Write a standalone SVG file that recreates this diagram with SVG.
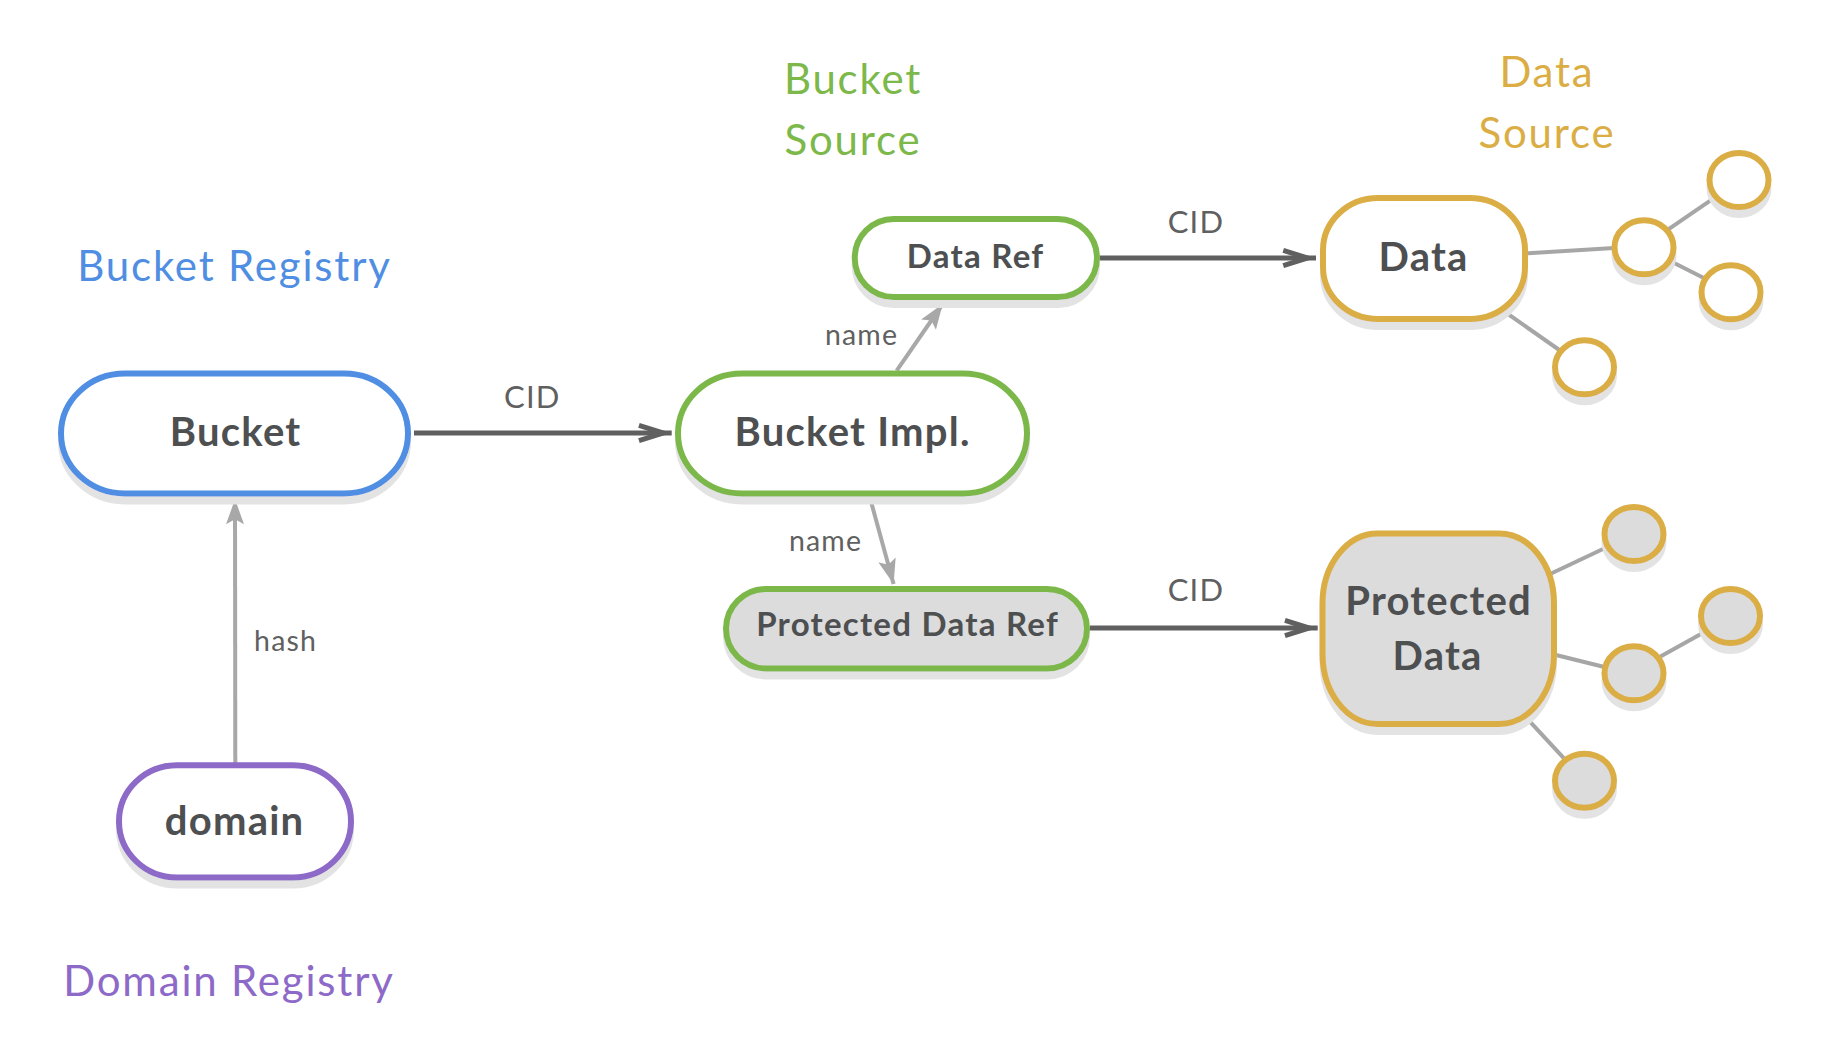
<svg xmlns="http://www.w3.org/2000/svg" width="1822" height="1054" viewBox="0 0 1822 1054">
<style>
  .title { font-family: Lato, "Noto Sans", sans-serif; font-size: 42px; letter-spacing: 1.8px; text-anchor: middle; }
  .blue { fill: #4f8ee2; }
  .green { fill: #7cb84a; }
  .yellow { fill: #dbae45; }
  .purple { fill: #8d69c8; }
  .lbl { font-family: Lato, "Noto Sans", sans-serif; font-weight: bold; fill: #4d4f51; text-anchor: middle; letter-spacing: 1.25px; }
  .big { font-size: 40px; }
  .mid { font-size: 33px; }
  .elbl { font-family: Lato, "Noto Sans", sans-serif; fill: #606060; text-anchor: middle; letter-spacing: 1.2px; }
  .cid { font-size: 31px; }
  .sm { font-size: 28.5px; }
  .node { stroke-width: 6; filter: url(#sh); }
  .nb { stroke: #4f8ee2; fill: #ffffff; }
  .ng { stroke: #7cb84a; fill: #ffffff; }
  .ngg { stroke: #7cb84a; fill: #dcdcdc; }
  .ny { stroke: #dbae45; fill: #ffffff; }
  .nyg { stroke: #dbae45; fill: #dcdcdc; }
  .np { stroke: #8d69c8; fill: #ffffff; }
  .dark { stroke: #606060; stroke-width: 5; fill: none; marker-end: url(#chev); }
  .light { stroke: #a8a8a8; stroke-width: 4; fill: none; marker-end: url(#tri); }
  .link { stroke: #a6a6a6; stroke-width: 4; fill: none; }
</style>
<defs>
  <filter id="sh" x="-20%" y="-20%" width="140%" height="160%">
    <feFlood flood-color="#e3e3e3" result="c"/>
    <feComposite in="c" in2="SourceAlpha" operator="in" result="s"/>
    <feOffset in="s" dx="0" dy="8" result="o"/>
    <feMerge><feMergeNode in="o"/><feMergeNode in="SourceGraphic"/></feMerge>
  </filter>
  <marker id="chev" markerUnits="userSpaceOnUse" viewBox="-4 -2 40 24" markerWidth="40" markerHeight="24" refX="32" refY="10" orient="auto" overflow="visible">
    <path d="M0,0 L32,10 L0,20 L-1.5,15.2 L15.2,10 L-1.5,4.8 Z" fill="#606060"/>
  </marker>
  <marker id="tri" markerUnits="userSpaceOnUse" viewBox="0 0 26 18" markerWidth="26" markerHeight="18" refX="25" refY="9" orient="auto" overflow="visible">
    <path d="M0,0 L25,9 L0,18 L5,9 Z" fill="#a8a8a8"/>
  </marker>
</defs>
<rect width="1822" height="1054" fill="#ffffff"/>

<g id="titles">
  <text class="title blue" x="234.5" y="280.6">Bucket Registry</text>
  <text class="title green" x="853" y="94">Bucket</text>
  <text class="title green" x="853" y="155">Source</text>
  <text class="title yellow" x="1547" y="87.4">Data</text>
  <text class="title yellow" x="1547" y="148">Source</text>
  <text class="title purple" x="229" y="996">Domain Registry</text>
</g>

<g id="connectors">
  <path class="dark" d="M414,433 L671.7,433"/>
  <path class="dark" d="M1100,258 L1316,258"/>
  <path class="dark" d="M1090,628 L1317.7,628"/>
  <path class="light" d="M235.3,764 L235,499.3"/>
  <path class="light" d="M896.7,370.7 L942.7,304"/>
  <path class="light" d="M869.7,496.8 L893.6,584"/>
  <path class="link" d="M1524,253.5 L1614,248"/>
  <path class="link" d="M1668.3,229.3 L1715,197.3"/>
  <path class="link" d="M1671.7,261.7 L1703.3,277.7"/>
  <path class="link" d="M1498,307 L1560,350.5"/>
  <path class="link" d="M1548,575 L1606.7,547.3"/>
  <path class="link" d="M1554,654.5 L1603.3,666.7"/>
  <path class="link" d="M1660,656.7 L1705,631.7"/>
  <path class="link" d="M1520,711 L1564,758.3"/>
  <text class="elbl cid" x="532.3" y="407.5">CID</text>
  <text class="elbl cid" x="1196" y="233">CID</text>
  <text class="elbl cid" x="1196" y="601">CID</text>
  <text class="elbl sm" x="861.6" y="345">name</text>
  <text class="elbl sm" x="825.6" y="550.5">name</text>
  <text class="elbl sm" x="285.6" y="650.7">hash</text>
</g>

<g id="bucket">
  <rect class="node nb" x="61" y="373.5" width="347" height="120" rx="64" ry="60"/>
  <text class="lbl big" x="235.6" y="446.4">Bucket</text>
</g>
<g id="bucket-impl">
  <rect class="node ng" x="678" y="373.5" width="349" height="120" rx="64" ry="60"/>
  <text class="lbl big" x="852.6" y="446.4">Bucket Impl.</text>
</g>
<g id="data-ref">
  <rect class="node ng" x="854.7" y="219" width="242.3" height="78" rx="39" ry="39"/>
  <text class="lbl mid" x="975.6" y="268.3">Data Ref</text>
</g>
<g id="protected-data-ref">
  <rect class="node ngg" x="726" y="589" width="361" height="79.5" rx="40" ry="39.7"/>
  <text class="lbl mid" x="907.6" y="636.2">Protected Data Ref</text>
</g>
<g id="data">
  <rect class="node ny" x="1323" y="198" width="202" height="121" rx="55" ry="52"/>
  <text class="lbl big" x="1423.6" y="270.6">Data</text>
</g>
<g id="protected-data">
  <rect class="node nyg" x="1322.5" y="533.4" width="231.5" height="190.6" rx="55" ry="70"/>
  <text class="lbl big" x="1438.6" y="615">Protected</text>
  <text class="lbl big" x="1437.6" y="669.8">Data</text>
</g>
<g id="domain">
  <rect class="node np" x="119" y="765.3" width="232" height="112.3" rx="58" ry="56"/>
  <text class="lbl big" x="234.6" y="834.5">domain</text>
</g>

<g id="data-children">
  <ellipse class="node ny" cx="1739" cy="180" rx="29.5" ry="27"/>
  <ellipse class="node ny" cx="1644" cy="247.3" rx="29.5" ry="27"/>
  <ellipse class="node ny" cx="1731" cy="292.3" rx="29.5" ry="27"/>
  <ellipse class="node ny" cx="1584.5" cy="367.3" rx="29.5" ry="27"/>
</g>
<g id="protected-data-children">
  <ellipse class="node nyg" cx="1634" cy="534" rx="29.5" ry="27"/>
  <ellipse class="node nyg" cx="1730.5" cy="616" rx="29.5" ry="27"/>
  <ellipse class="node nyg" cx="1634" cy="673.3" rx="29.5" ry="27"/>
  <ellipse class="node nyg" cx="1584.5" cy="780.7" rx="29.5" ry="27"/>
</g>
</svg>
